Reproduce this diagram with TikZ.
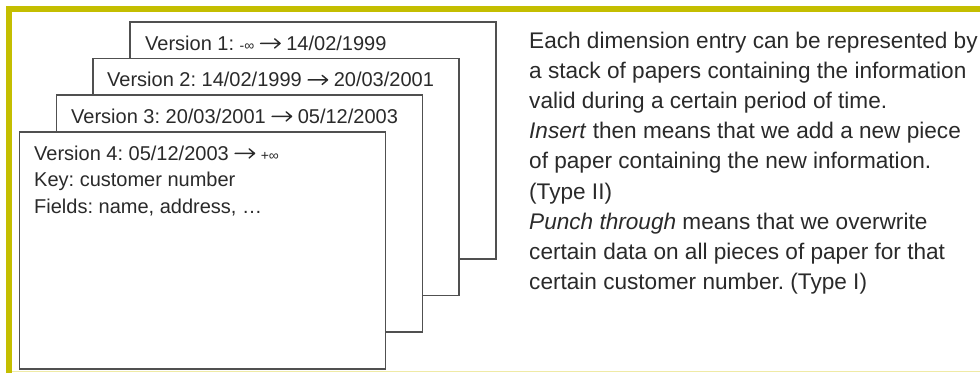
\documentclass[tikz,border=0pt]{standalone}
\usepackage{fontspec}
\setmainfont{Liberation Sans}
\definecolor{olive}{HTML}{C4BE00}
\definecolor{paleline}{HTML}{EFEAA6}
\definecolor{txt}{HTML}{2A2A2A}
\definecolor{edge}{HTML}{505050}
\newcommand{\varr}{\tikz[x=1pt,y=1pt,baseline=0pt]{\draw[txt,line width=1.4pt,line cap=round,line join=round]
  (0,6.6) -- (19,6.6) (14,11.2) -- (19.5,6.6) -- (14,2);}}
\newcommand{\smallinf}[1]{{\fontsize{14}{14}\selectfont #1∞}}
\begin{document}
\frenchspacing
\begin{tikzpicture}[x=1pt,y=-1pt,
  paper/.style={draw=edge,line width=1.6pt,fill=white,rectangle,anchor=north west,
    minimum width=366pt,minimum height=237pt,inner sep=0pt},
  vlabel/.style={anchor=base west,inner sep=0pt,text=txt,font=\fontsize{20}{26.5}\selectfont},
  desc/.style={anchor=north west,inner sep=0pt,text=txt,align=left,
    font=\fontsize{22.6}{30.2}\selectfont}]
\useasboundingbox (0,0) rectangle (980,373);
\fill[white] (0,0) rectangle (980,373);
% frame
\draw[paleline,line width=1.5pt] (9,371.5) -- (980,371.5);
\draw[olive,line width=5.5pt] (9,373) -- (9,9) -- (980,9);
% papers
\node[paper] (p1) at (129,21) {};
\node[paper] (p2) at (92,57.5) {};
\node[paper] (p3) at (55.5,94) {};
\node[paper] (p4) at (18.5,131) {};
\node[vlabel] (t1) at (145,50) {Version 1: \smallinf{-} \varr{} 14/02/1999};
\node[vlabel] (t2) at (107,86.5) {Version 2: 14/02/1999 \varr{} 20/03/2001};
\node[vlabel] (t3) at (71,123) {Version 3: 20/03/2001 \varr{} 05/12/2003};
\node[vlabel] (t4) at (34,160) {Version 4: 05/12/2003 \varr{} \smallinf{+}};
\node[vlabel] (t5) at (34,186.5) {Key: customer number};
\node[vlabel] (t6) at (34,213) {Fields: name, address, …};
% description
\node[desc] (d) at (529,31.5) {Each dimension entry can be represented by\\
a stack of papers containing the information\\
valid during a certain period of time.\\
\textit{Insert} then means that we add a new piece\\
of paper containing the new information.\\
(Type II)\\
\textit{Punch through} means that we overwrite\\
certain data on all pieces of paper for that\\
certain customer number. (Type I)};
\end{tikzpicture}
\end{document}
